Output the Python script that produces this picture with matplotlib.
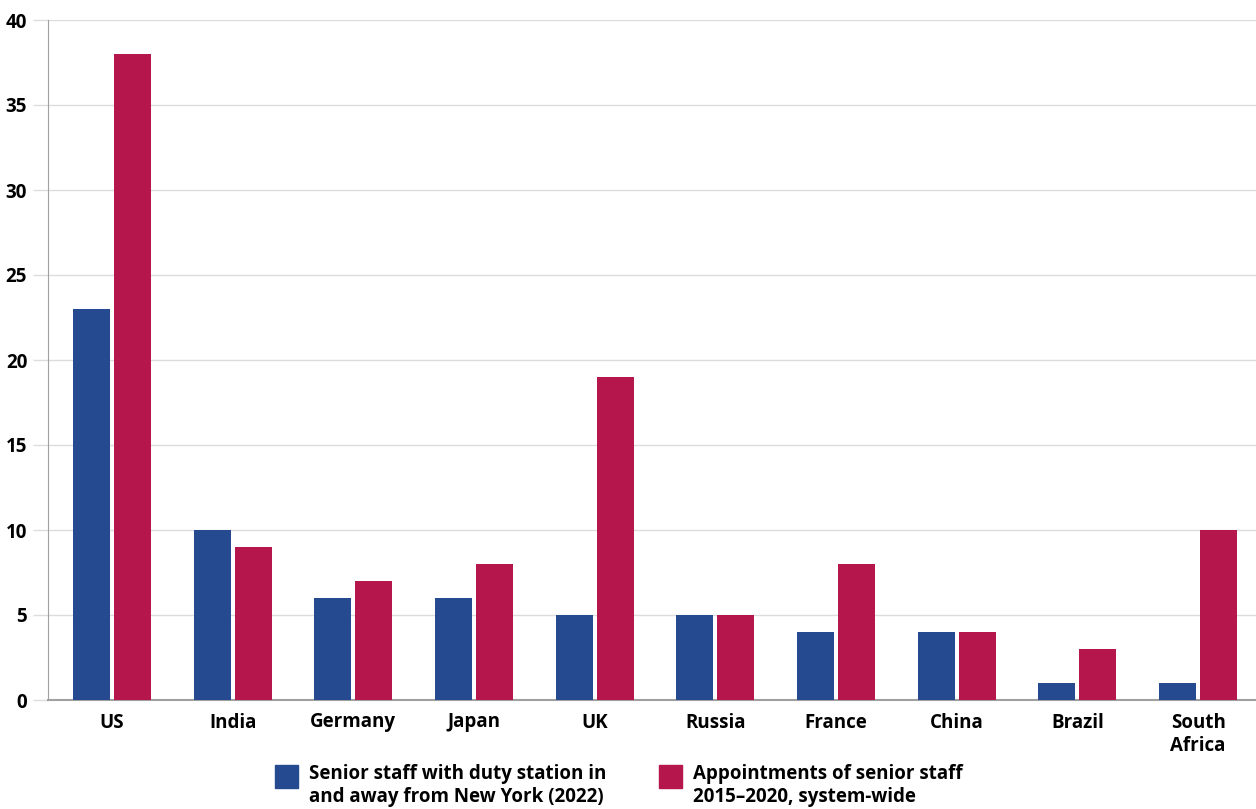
import numpy as np
import matplotlib.pyplot as plt
from matplotlib.patches import Rectangle

# Senior staff by nationality
countries = ['US', 'India', 'Germany', 'Japan', 'UK', 'Russia', 'France',
             'China', 'Brazil', 'South\nAfrica']
staff_2022 = [23, 10, 6, 6, 5, 5, 4, 4, 1, 1]
appointments_2015_2020 = [38, 9, 7, 8, 19, 5, 8, 4, 3, 10]
series_labels = ['Senior staff with duty station in\nand away from New York (2022)',
                 'Appointments of senior staff\n2015\u20132020, system-wide']

blue = '#254a90'
red = '#b5164b'
grid_grey = '#dcdcdc'
axis_grey = '#a0a0a0'

plt.rcParams['font.family'] = ['Open Sans', 'DejaVu Sans']
plt.rcParams['font.weight'] = 'bold'

fig = plt.figure(figsize=(12.56, 8.09), dpi=100)
ax = fig.add_axes([48 / 1256, 109 / 809, 1 - 48 / 1256, 680 / 809])

x = np.arange(len(countries))
width = 0.306
gap = 0.017
ax.bar(x - width / 2 - gap, staff_2022, width, color=blue, zorder=3)
ax.bar(x + width / 2 + gap, appointments_2015_2020, width, color=red, zorder=3)

ax.set_xlim(-0.53, 9.48)
ax.set_ylim(0, 40)
ax.set_yticks(np.arange(0, 41, 5))
ax.set_xticks(x)
ax.set_xticklabels(countries, fontsize=13.5, fontweight='bold', linespacing=1.25)
ax.tick_params(axis='x', length=0, pad=9)
ax.tick_params(axis='y', length=11, color=grid_grey, width=1, pad=4,
               labelsize=13.5)
for lab in ax.get_yticklabels():
    lab.set_fontweight('bold')

ax.yaxis.grid(True, color=grid_grey, linewidth=1, zorder=0)
for side in ['top', 'right']:
    ax.spines[side].set_visible(False)
ax.spines['left'].set_color(axis_grey)
ax.spines['bottom'].set_color(axis_grey)
ax.spines['bottom'].set_linewidth(1.5)

# legend drawn by hand below the axes
W, H = 1256, 809
for px, colour, text in [(275, blue, series_labels[0]), (659, red, series_labels[1])]:
    fig.patches.append(Rectangle((px / W, 1 - 788 / H), 23 / W, 23 / H,
                                 transform=fig.transFigure, color=colour))
    fig.text((px + 34) / W, 1 - 764 / H, text, fontsize=13.5, fontweight='bold',
             ha='left', va='top', linespacing=1.2)

fig.savefig('out.png', dpi=100)
